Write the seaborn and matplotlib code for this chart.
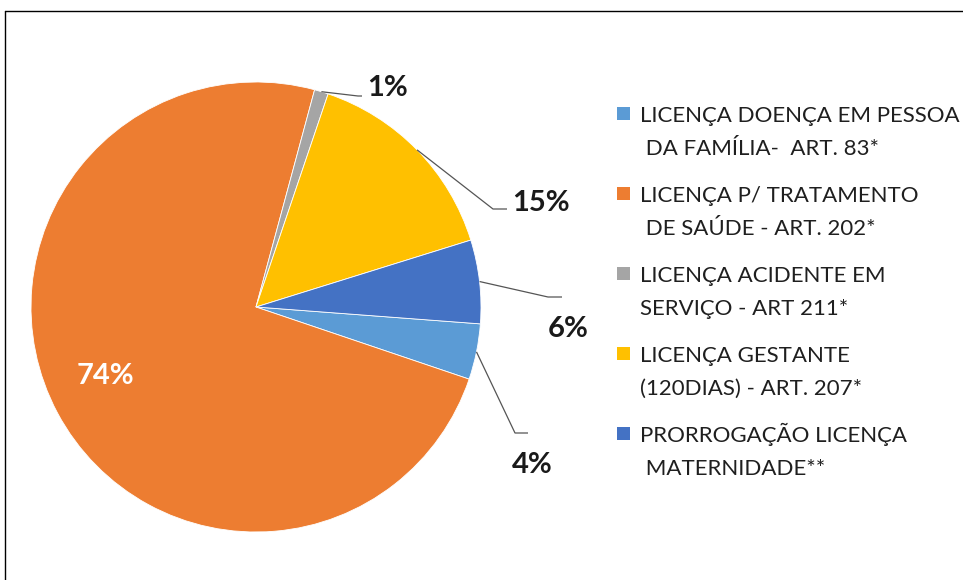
import numpy as np
import matplotlib
matplotlib.use("Agg")
import matplotlib.pyplot as plt
from matplotlib.lines import Line2D
from matplotlib.patches import Rectangle
import seaborn as sns

# Leave categories and their share of the total (%)
categories = [
    ["LICENÇA DOENÇA EM PESSOA", " DA FAMÍLIA-  ART. 83*"],
    ["LICENÇA P/ TRATAMENTO", " DE SAÚDE - ART. 202*"],
    ["LICENÇA ACIDENTE EM", "SERVIÇO - ART 211*"],
    ["LICENÇA GESTANTE", "(120DIAS) - ART. 207*"],
    ["PRORROGAÇÃO LICENÇA", " MATERNIDADE**"],
]
shares = [4, 74, 1, 15, 6]
slice_colors = ["#5B9BD5", "#ED7D31", "#A5A5A5", "#FFC000", "#4472C4"]

sns.set_theme(style="white")
plt.rcParams["font.family"] = ["Lato", "DejaVu Sans"]
palette = sns.color_palette(slice_colors)

W, H = 963, 580
fig = plt.figure(figsize=(W / 100, H / 100), dpi=100)
ax = fig.add_axes([0, 0, 1, 1])

# work in pixel-like units, y pointing up
cx, cy, R = 256, H - 307, 225
wedges, _ = ax.pie(
    shares,
    colors=palette,
    startangle=-4.3,
    counterclock=False,
    center=(cx, cy),
    radius=R,
    wedgeprops=dict(edgecolor="white", linewidth=0.6),
)
ax.set_xlim(0, W)
ax.set_ylim(0, H)
ax.set_aspect("equal")
ax.axis("off")

def py(y):
    return H - y

# outside labels: (slice index, elbow, line end, text left/baseline)
outside = {
    2: ((358, 96), (362, 96), (367, 96)),
    3: ((493, 209), (507, 209), (512, 211)),
    4: ((548, 297), (562, 297), (548, 337)),
    0: ((515, 433), (528, 433), (512, 473)),
}
label_color = "#1a1a1a"
for idx, (elbow, end, txt) in outside.items():
    w = wedges[idx]
    mid = np.deg2rad((w.theta1 + w.theta2) / 2)
    ax0 = cx + R * np.cos(mid)
    ay0 = cy + R * np.sin(mid)
    ax.plot([ax0, elbow[0], end[0]], [ay0, py(elbow[1]), py(end[1])],
            color="#555555", lw=0.9, solid_capstyle="butt", zorder=3)
    ax.text(txt[0], py(txt[1]), f"{shares[idx]}%", ha="left", va="baseline",
            fontsize=21, fontweight="bold", color=label_color)

# label inside the largest slice
ax.text(105, py(384), f"{shares[1]}%", ha="center", va="baseline",
        fontsize=21, fontweight="bold", color="white")

# legend drawn as swatches with two-line captions
leg_x_box, leg_x_text = 617, 640
first_base, entry_gap, line_gap = 122, 80, 33
for k, (lines, col) in enumerate(zip(categories, palette)):
    base = first_base + k * entry_gap
    fig.add_artist(Rectangle((leg_x_box / W, py(base - 2) / H), 13 / W, 13 / H,
                             transform=fig.transFigure, facecolor=col,
                             edgecolor="none"))
    for j, line in enumerate(lines):
        fig.text(leg_x_text / W, py(base + j * line_gap) / H, line,
                 ha="left", va="baseline", fontsize=16, color="#1f1f1f")

# chart frame
fig.add_artist(Line2D([4.5 / W, 4.5 / W], [0, py(10.5) / H],
                      transform=fig.transFigure, color="black", lw=1))
fig.add_artist(Line2D([4.5 / W, 1], [py(10.5) / H, py(10.5) / H],
                      transform=fig.transFigure, color="black", lw=1))

fig.savefig("out.png", dpi=100, facecolor="white")
